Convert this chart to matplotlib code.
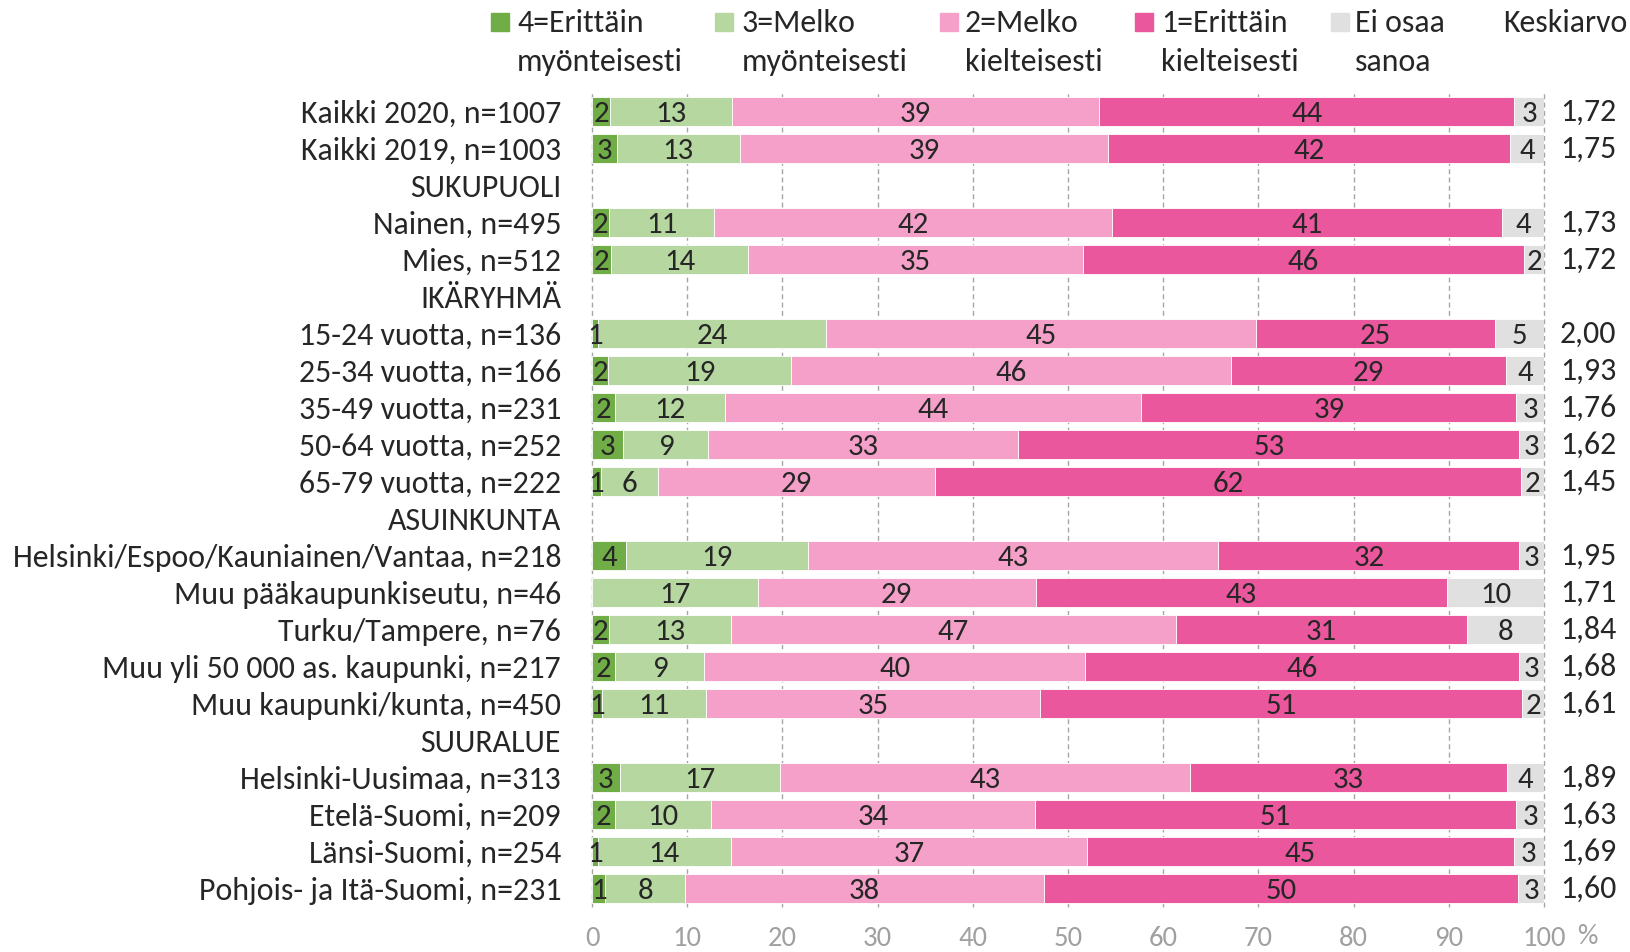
import numpy as np
import matplotlib
matplotlib.use("Agg")
import matplotlib.pyplot as plt
from matplotlib import font_manager as fm
from matplotlib.patches import Rectangle

# ---------------- data ----------------
categories = [
    "Kaikki 2020, n=1007", "Kaikki 2019, n=1003", "SUKUPUOLI",
    "Nainen, n=495", "Mies, n=512", "IKÄRYHMÄ",
    "15-24 vuotta, n=136", "25-34 vuotta, n=166", "35-49 vuotta, n=231",
    "50-64 vuotta, n=252", "65-79 vuotta, n=222", "ASUINKUNTA",
    "Helsinki/Espoo/Kauniainen/Vantaa, n=218", "Muu pääkaupunkiseutu, n=46",
    "Turku/Tampere, n=76", "Muu yli 50 000 as. kaupunki, n=217",
    "Muu kaupunki/kunta, n=450", "SUURALUE",
    "Helsinki-Uusimaa, n=313", "Etelä-Suomi, n=209", "Länsi-Suomi, n=254",
    "Pohjois- ja Itä-Suomi, n=231",
]
nan = np.nan
erittain_myont = [1.9, 2.6, nan, 1.8, 2.0, nan, 0.6, 1.7, 2.4, 3.3, 0.9, nan,
                  3.6, 0.0, 1.8, 2.4, 1.1, nan, 2.9, 2.4, 0.6, 1.4]
melko_myont = [12.8, 12.9, nan, 11.0, 14.4, nan, 24.0, 19.2, 11.6, 8.9, 6.0, nan,
               19.1, 17.4, 12.8, 9.4, 10.9, nan, 16.9, 10.1, 14.0, 8.4]
melko_kielt = [38.6, 38.7, nan, 41.8, 35.2, nan, 45.1, 46.2, 43.7, 32.6, 29.1, nan,
               43.1, 29.2, 46.7, 40.0, 35.1, nan, 43.0, 34.0, 37.4, 37.7]
erittain_kielt = [43.6, 42.2, nan, 41.0, 46.3, nan, 25.2, 28.9, 39.4, 52.6, 61.6, nan,
                  31.6, 43.2, 30.6, 45.6, 50.6, nan, 33.3, 50.6, 44.8, 49.8]
ei_osaa = [3.1, 3.6, nan, 4.4, 2.1, nan, 5.1, 4.0, 2.9, 2.6, 2.4, nan,
           2.6, 10.2, 8.1, 2.6, 2.3, nan, 3.9, 2.9, 3.2, 2.7]
keskiarvo = [1.72, 1.75, nan, 1.73, 1.72, nan, 2.00, 1.93, 1.76, 1.62, 1.45, nan,
             1.95, 1.71, 1.84, 1.68, 1.61, nan, 1.89, 1.63, 1.69, 1.60]
series_labels = ["4=Erittäin\nmyönteisesti", "3=Melko\nmyönteisesti",
                 "2=Melko\nkielteisesti", "1=Erittäin\nkielteisesti", "Ei osaa\nsanoa"]
xticks = list(range(0, 101, 10))

colors = ["#70ad47", "#b6d8a0", "#f4a0c8", "#ea579d", "#e0e0e0"]
text_color = "#262626"
grid_color = "#a6a6a6"

# ---------------- font ----------------
available = {f.name for f in fm.fontManager.ttflist}
FONT = "DejaVu Sans"
for cand in ["Carlito", "Lato", "Open Sans", "Liberation Sans"]:
    if cand in available:
        FONT = cand
        break
plt.rcParams["font.family"] = [FONT, "DejaVu Sans"]

W, H = 1630, 952
fig = plt.figure(figsize=(W / 100, H / 100), dpi=100)
renderer = fig.canvas.get_renderer()
probe = fig.text(0, 0, "Helsinki/Espoo/Kauniainen/Vantaa, n=218", fontsize=20)
pw = probe.get_window_extent(renderer).width
probe.remove()
FS = 20 * 549.0 / pw
FS_BAR = FS * 0.97
FS_TICK = FS * 0.9

# ---------------- axes ----------------
x0, x1 = 592, 1544
ytop, ybot = 92.8, 906.8
ax = fig.add_axes([x0 / W, 1 - ybot / H, (x1 - x0) / W, (ybot - ytop) / H])

series = [erittain_myont, melko_myont, melko_kielt, erittain_kielt, ei_osaa]
n = len(categories)
ypos = np.arange(n)
data = np.array(series, dtype=float)
valid = ~np.isnan(data[0])
left = np.zeros(n)
for vals, col in zip(data, colors):
    v = np.where(valid, vals, 0.0)
    bars = ax.barh(ypos[valid], v[valid], left=left[valid], height=0.79,
                   color=col, edgecolor="white", linewidth=0.6, zorder=2)
    labs = [str(int(x + 0.5)) if x > 0 else "" for x in v[valid]]
    anns = ax.bar_label(bars, labels=labs, label_type="center", fontsize=FS_BAR,
                        color=text_color)
    for a in anns:
        a.set_va("center_baseline")
    left = left + v

ax.set_xlim(0, 100)
ax.set_ylim(n - 0.5, -0.5)
ax.set_xticks(xticks)
ax.set_xticklabels([str(t) for t in xticks], fontsize=FS_TICK, color="#a0a0a0")
ax.set_yticks(ypos)
ax.set_yticklabels(categories, fontsize=FS, color=text_color)
ax.tick_params(axis="y", length=0, pad=22.3)
ax.tick_params(axis="x", length=0, pad=14)
for s in ax.spines.values():
    s.set_visible(False)
ax.grid(axis="x", color=grid_color, linestyle=(0, (3.5, 2.5)), linewidth=1.0, zorder=0)
ax.set_axisbelow(True)
for gl in ax.get_xgridlines():
    gl.set_clip_on(False)

# mean column
for yv, k in zip(ypos, keskiarvo):
    if not np.isnan(k):
        ax.text((1588 - x0) / (x1 - x0), yv, f"{k:.2f}".replace(".", ","),
                transform=ax.get_yaxis_transform(), ha="center", va="center",
                fontsize=FS, color=text_color)

fig.text(1587 / W, 1 - 937 / H, "%", ha="center", va="center",
         fontsize=FS_TICK, color="#a0a0a0")

# legend (manual)
sq_left = [490.6, 715, 940, 1135, 1331]
txt_left = [517, 742, 965, 1161, 1355]
for lab, col, sx, tx in zip(series_labels, colors, sq_left, txt_left):
    fig.patches.append(Rectangle((sx / W, 1 - 31 / H), 18 / W, 18 / H,
                                 transform=fig.transFigure, color=col))
    l1, l2 = lab.split("\n")
    fig.text(tx / W, 1 - 23 / H, l1, ha="left", va="center", fontsize=FS, color=text_color)
    fig.text(tx / W, 1 - 62 / H, l2, ha="left", va="center", fontsize=FS, color=text_color)
fig.text(1503 / W, 1 - 23 / H, "Keskiarvo", ha="left", va="center", fontsize=FS,
         color=text_color)

fig.savefig("out.png", dpi=100)
